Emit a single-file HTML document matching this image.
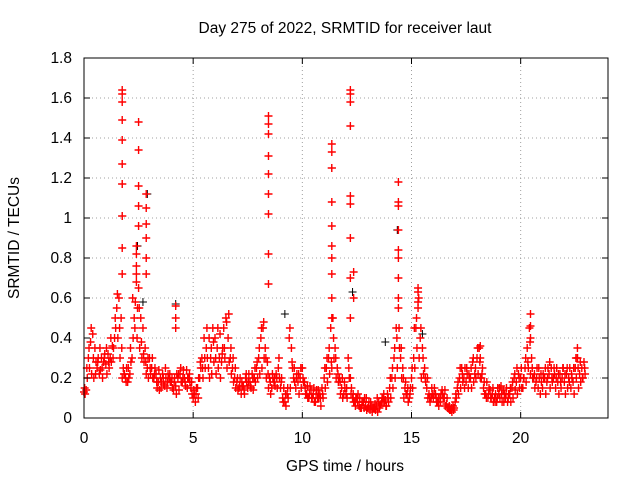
<!DOCTYPE html>
<html><head><meta charset="utf-8"><style>
html,body{margin:0;padding:0;background:#fff;}
svg text{font-family:"Liberation Sans",sans-serif;font-size:15.5px;fill:#000;}
</style></head><body>
<svg id="chart" width="640" height="480" xmlns="http://www.w3.org/2000/svg">
<rect width="640" height="480" fill="#fff"/>
<text x="345" y="33" text-anchor="middle">Day 275 of 2022, SRMTID for receiver laut</text>
<text x="345" y="471" text-anchor="middle">GPS time / hours</text>
<text transform="translate(19,238) rotate(-90)" text-anchor="middle">SRMTID / TECUs</text>
<g id="grid"></g><g id="marks"></g><g id="axes"></g>
</svg>
<script>
const xTicks=[0,5,10,15,20];
const yTicks=[0,0.2,0.4,0.6,0.8,1,1.2,1.4,1.6,1.8];
const yTickLabels=["0","0.2","0.4","0.6","0.8","1","1.2","1.4","1.6","1.8"];
const seriesA=[.13,.14,.3,.38,.42,.35,.25,.22,.3,.28,
.27,.32,.3,.36,.4,.55,.6,.5,.25,.2,
.18,.22,.3,.5,.72,.65,.5,.45,.35,.25,
.3,.25,.2,.22,.18,.2,.22,.16,.15,.2,
.18,.14,.16,.2,.22,.18,.2,.24,.2,.15,
.1,.08,.15,.2,.3,.4,.35,.25,.3,.45,
.4,.35,.3,.28,.45,.5,.4,.3,.25,.2,
.18,.15,.12,.16,.2,.15,.18,.22,.2,.25,
.3,.4,.45,.35,.28,.2,.15,.18,.22,.25,
.15,.1,.08,.12,.4,.35,.2,.15,.18,.2,
.25,.18,.12,.1,.14,.12,.08,.1,.12,.15,
.2,.25,.3,.45,.5,.35,.25,.2,.15,.12,
.12,.3,.2,.1,.08,.1,.06,.05,.08,.06,
.05,.04,.03,.05,.06,.08,.07,.1,.09,.12,
.15,.2,.3,.45,.55,.3,.25,.15,.12,.1,
.2,.3,.45,.55,.4,.35,.25,.15,.12,.1,
.1,.12,.08,.1,.14,.1,.07,.05,.04,.06,
.08,.15,.2,.25,.2,.18,.15,.2,.28,.22,
.3,.35,.2,.15,.12,.1,.14,.12,.1,.08,
.12,.16,.14,.1,.08,.12,.15,.2,.18,.22,
.2,.15,.25,.35,.45,.3,.2,.18,.15,.12,
.15,.2,.18,.22,.25,.2,.15,.18,.22,.2,
.18,.22,.2,.15,.18,.25,.3,.22,.25,.28];
const seriesB=[.12,.2,.25,.22,.2,.28,.3,.24,.2,.32,
.22,.25,.28,.35,.45,.4,.3,.2,.22,.25,
.2,.28,.4,.58,.55,.35,.3,.28,.22,.2,
.22,.2,.25,.15,.14,.18,.17,.2,.22,.18,
.15,.2,.22,.14,.18,.24,.16,.2,.18,.12,
.12,.15,.2,.25,.2,.25,.3,.2,.22,.28,
.22,.25,.2,.35,.3,.25,.28,.22,.18,.15,
.14,.2,.16,.12,.18,.22,.15,.14,.18,.2,
.22,.25,.3,.2,.15,.12,.2,.16,.15,.2,
.2,.15,.06,.1,.15,.25,.18,.22,.12,.15,
.18,.12,.1,.16,.1,.08,.14,.1,.06,.1,
.15,.18,.22,.25,.3,.2,.18,.12,.1,.15,
.1,.2,.15,.08,.1,.12,.05,.08,.1,.04,
.08,.06,.05,.04,.03,.06,.1,.08,.06,.08,
.1,.15,.2,.25,.35,.2,.1,.12,.08,.15,
.15,.25,.35,.3,.2,.22,.18,.1,.08,.12,
.15,.08,.06,.12,.1,.06,.05,.04,.03,.05,
.1,.12,.15,.18,.25,.22,.2,.15,.18,.2,
.22,.2,.25,.12,.18,.15,.1,.08,.12,.15,
.1,.08,.12,.15,.12,.08,.1,.14,.12,.15,
.15,.2,.18,.25,.22,.2,.15,.25,.2,.18,
.2,.12,.25,.15,.18,.22,.25,.12,.15,.25,
.12,.15,.25,.2,.12,.2,.15,.18,.2,.22];
const seriesC=[.15,.25,.35,.45,.3,.22,.28,.35,.25,.3,
.35,.28,.4,.3,.5,.62,.45,.35,.22,.18,
.25,.35,.6,.45,.4,.55,.38,.32,.28,.3,
.25,.3,.22,.18,.24,.15,.2,.25,.18,.22,
.2,.18,.12,.22,.25,.2,.18,.15,.22,.18,
.14,.12,.1,.28,.25,.3,.45,.4,.35,.38,
.3,.45,.42,.32,.35,.48,.52,.35,.3,.25,
.2,.16,.18,.14,.22,.18,.16,.2,.25,.28,
.35,.45,.48,.3,.22,.18,.22,.2,.2,.3,
.18,.08,.12,.15,.45,.28,.25,.2,.22,.25,
.2,.15,.16,.12,.1,.15,.12,.14,.1,.12,
.25,.3,.35,.28,.4,.3,.22,.18,.2,.18,
.15,.25,.12,.12,.06,.08,.1,.08,.05,.1,
.06,.08,.05,.07,.1,.05,.08,.12,.06,.1,
.2,.25,.35,.4,.45,.35,.2,.18,.15,.12,
.25,.45,.5,.6,.45,.3,.2,.2,.1,.15,
.12,.1,.1,.08,.12,.14,.1,.06,.05,.04,
.12,.18,.25,.22,.15,.25,.22,.25,.3,.25,
.35,.28,.22,.18,.1,.12,.1,.15,.08,.1,
.15,.12,.08,.12,.1,.15,.18,.22,.25,.2,
.25,.2,.3,.28,.38,.25,.22,.2,.25,.22,
.22,.25,.2,.28,.2,.25,.2,.22,.18,.25,
.22,.25,.18,.22,.25,.3,.25,.28,.2,.25];
const spikeX=[1.75,1.75,1.75,1.75,1.75,1.75,1.75,1.75,1.75,1.75,
2.4,2.4,2.4,2.4,2.5,2.5,2.5,2.5,2.5,
2.85,2.85,2.85,2.85,2.85,2.85,4.2,4.2,4.2,
8.45,8.45,8.45,8.45,8.45,8.45,8.45,8.45,8.45,
11.35,11.35,11.35,11.35,11.35,11.35,11.35,11.35,11.35,11.35,
12.2,12.2,12.2,12.2,12.2,12.2,12.2,12.2,12.2,12.35,12.35,
14.4,14.4,14.4,14.4,14.4,14.4,14.4,14.4,
15.3,15.3,15.3,18.15,18.15,20.45,20.45,20.45,22.6,22.6];
const spikeY=[.72,.85,1.01,1.17,1.27,1.39,1.49,1.58,1.62,1.64,
.68,.76,.82,.86,.96,1.06,1.16,1.34,1.48,
.72,.8,.9,.97,1.05,1.12,.45,.5,.56,
.67,.82,1.02,1.12,1.22,1.31,1.42,1.47,1.51,
.5,.6,.72,.8,.86,.96,1.08,1.25,1.33,1.37,
.5,.7,.9,1.07,1.11,1.46,1.58,1.62,1.64,.6,.73,
.6,.7,.8,.84,.94,1.06,1.08,1.18,
.58,.63,.65,.3,.36,.4,.46,.52,.3,.35];
const blackX=[1.75,1.75,2.45,2.9,8.45,8.45,11.35,12.3,14.35,4.2,9.2,13.8,2.7,15.5];
const blackY=[1.17,1.01,.86,1.12,1.31,1.12,1.25,.63,.94,.57,.52,.38,.58,.42];

const L=84,R=608,T=58,B=418,XMAX=24,YMAX=1.8;
const xs=v=>L+(v/XMAX)*(R-L);
const ys=v=>B-(v/YMAX)*(B-T);
const NS="http://www.w3.org/2000/svg";
const grid=document.getElementById('grid'),marks=document.getElementById('marks'),axes=document.getElementById('axes');
function mk(tag,attrs,parent){const e=document.createElementNS(NS,tag);for(const k in attrs)e.setAttribute(k,attrs[k]);parent.appendChild(e);return e;}

yTicks.forEach((t,i)=>{
  const y=ys(t);
  if(i>0&&i<yTicks.length-1){const g=mk('line',{x1:L,x2:R,y1:y,y2:y,stroke:'#a0a0a0','stroke-dasharray':'1,3'},grid);
  
  }
  const tk=mk('line',{x1:L,x2:L+6,y1:y,y2:y,stroke:'#000'},axes);
  
  
  const tk2=mk('line',{x1:R,x2:R-6,y1:y,y2:y,stroke:'#000'},axes);
  
  
  const lb=mk('text',{x:L-12,y:y+5,'text-anchor':'end'},axes);lb.textContent=yTickLabels[i];
  
  
});
xTicks.forEach(t=>{
  const x=xs(t);
  if(t>0){const g=mk('line',{x1:x,x2:x,y1:T,y2:B,stroke:'#a0a0a0','stroke-dasharray':'1,3'},grid);
  
  }
  const tk=mk('line',{x1:x,x2:x,y1:B,y2:B-6,stroke:'#000'},axes);
  
  
  const tk2=mk('line',{x1:x,x2:x,y1:T,y2:T+6,stroke:'#000'},axes);
  
  
  const lb=mk('text',{x:x,y:B+25,'text-anchor':'middle'},axes);lb.textContent=String(t);
  
  
});
const fr=mk('rect',{x:L,y:T,width:R-L,height:B-T,fill:'none',stroke:'#000'},axes);



function plus(x,y,col,name,w){
  const px=xs(x),py=ys(y);
  const p=mk('path',{d:`M${px-4},${py}h8M${px},${py-4}v8`,stroke:col,'stroke-width':w,fill:'none'},marks);
  
  
}
blackX.forEach((x,i)=>plus(x,blackY[i],'#000000','black-point',1));
seriesA.forEach((v,i)=>plus(i*0.1,v,'#ff0000','point-a',1.4));
seriesB.forEach((v,i)=>plus(i*0.1+0.05,v,'#ff0000','point-b',1.4));
seriesC.forEach((v,i)=>plus(i*0.1+0.03,v,'#ff0000','point-c',1.4));
spikeX.forEach((x,i)=>plus(x,spikeY[i],'#ff0000','spike-point',1.4));
</script>
</body></html>
